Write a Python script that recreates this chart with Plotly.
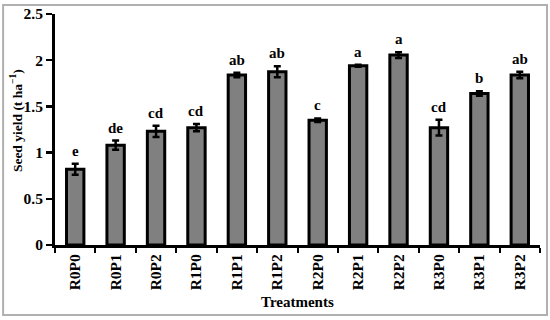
import plotly.graph_objects as go

treatments = ["R0P0", "R0P1", "R0P2", "R1P0", "R1P1", "R1P2",
              "R2P0", "R2P1", "R2P2", "R3P0", "R3P1", "R3P2"]
seed_yield = [0.82, 1.08, 1.23, 1.27, 1.84, 1.875, 1.35, 1.94, 2.055, 1.27, 1.64, 1.84]
errors = [0.06, 0.05, 0.06, 0.04, 0.025, 0.06, 0.02, 0.01, 0.03, 0.085, 0.025, 0.035]
letters = ["e", "de", "cd", "cd", "ab", "ab", "c", "a", "a", "cd", "b", "ab"]
y_ticks = [0, 0.5, 1, 1.5, 2, 2.5]
y_tick_labels = ["0", "0.5", "1", "1.5", "2", "2.5"]

FONT = "Liberation Serif"

fig = go.Figure()
fig.add_trace(go.Bar(
    x=treatments, y=seed_yield, width=0.43,
    marker=dict(color="#808080", line=dict(color="black", width=3)),
    error_y=dict(type="data", array=errors, visible=True,
                 color="black", thickness=2.5, width=3.5),
    showlegend=False, hoverinfo="skip",
))

annotations = []
for t, v, e, l in zip(treatments, seed_yield, errors, letters):
    annotations.append(dict(
        x=t, y=v + e, xref="x", yref="y", text="<b>%s</b>" % l,
        showarrow=False, yanchor="bottom", yshift=3,
        font=dict(family=FONT, size=15, color="black"),
    ))

annotations.append(dict(
    x=-0.078, y=0.537, xref="paper", yref="paper",
    text="<b>Seed yield (t ha<sup>−1</sup>)</b>", textangle=-90,
    showarrow=False, xanchor="center", yanchor="middle",
    font=dict(family=FONT, size=13.5, color="black"),
))
annotations.append(dict(
    x=0.5, y=-0.247, xref="paper", yref="paper",
    text="<b>Treatments</b>", showarrow=False,
    xanchor="center", yanchor="middle",
    font=dict(family=FONT, size=15, color="black"),
))

fig.update_layout(
    width=550, height=320,
    margin=dict(l=55, r=10, t=14, b=75),
    paper_bgcolor="white", plot_bgcolor="white",
    annotations=annotations,
    shapes=[dict(type="rect", xref="paper", yref="paper",
                 x0=-0.107, x1=1.0144, y0=-0.303, y1=1.039,
                 line=dict(color="#b0b0b0", width=2), fillcolor="rgba(0,0,0,0)",
                 layer="above")],
)
fig.update_xaxes(
    type="category", range=[-0.5, 11.5], automargin=False,
    tickvals=treatments, ticktext=["<b>%s</b>" % t for t in treatments],
    showline=True, linecolor="black", linewidth=3,
    ticks="outside", tickson="boundaries", ticklen=5, tickwidth=2, tickcolor="black",
    tickangle=-90, showgrid=False, zeroline=False,
    tickfont=dict(family=FONT, size=15.5, color="black"),
)
fig.update_yaxes(
    range=[0, 2.5], automargin=False,
    tickvals=y_ticks, ticktext=["<b>%s</b>" % s for s in y_tick_labels],
    showline=True, linecolor="black", linewidth=3,
    ticks="outside", ticklen=6, tickwidth=2.5, tickcolor="black",
    showgrid=False, zeroline=False,
    tickfont=dict(family=FONT, size=15.5, color="black"),
)

fig.write_html("out.html",
               config={"displayModeBar": False, "staticPlot": True},
               post_script="document.body.style.margin='0';document.body.style.overflow='hidden';")
